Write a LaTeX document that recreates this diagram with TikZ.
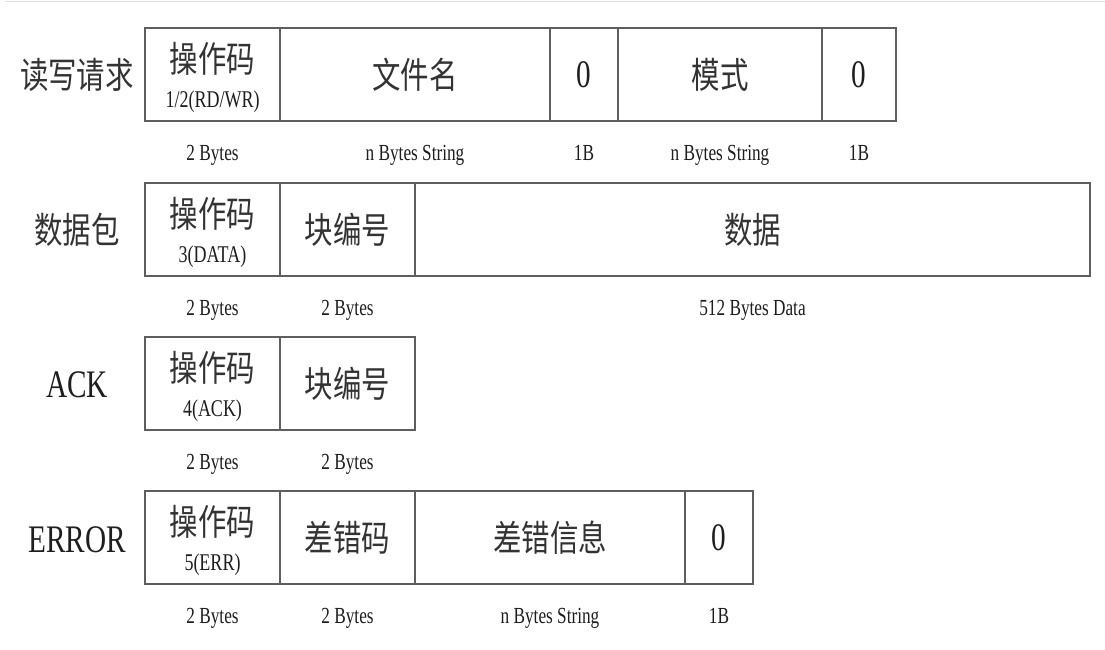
\documentclass[tikz,border=0pt]{standalone}
\usepackage{fontspec}
\setmainfont{Liberation Serif}[FakeStretch=0.75]
\newfontfamily\cjk{Noto Sans CJK SC}[FakeStretch=0.79]
\definecolor{boxgray}{HTML}{5E5E5E}
\definecolor{txt}{HTML}{1E1E1E}
\definecolor{cntxt}{HTML}{333333}
\tikzset{
  cell/.style={draw=boxgray, line width=1.2pt, minimum height=93pt, inner sep=0pt, outer sep=0pt, anchor=north west, text=txt},
  big/.style={font=\fontsize{39}{39}\selectfont, text=txt},
  cn/.style={font=\cjk\fontsize{36}{36}\selectfont, text=cntxt},
  op/.style={font=\fontsize{24}{24}\selectfont, text=txt, text height=17pt, text depth=5pt, inner sep=0pt},
  bl/.style={font=\fontsize{23}{23}\selectfont, text=txt, text height=16pt, text depth=5pt, inner sep=0pt},
}
\begin{document}
\begin{tikzpicture}[x=1pt, y=-1pt]
\useasboundingbox[fill=white] (0,0) rectangle (1105,649);
\draw[gray!25, line width=1pt] (5,1.5) -- (1105,1.5);

% ---------- row 1 : read/write request ----------
\node[cn] (l1) at (77,75) {读写请求};
\node[cell, minimum width=135pt] (r1a) at (145,28) {};
\node[cn] (r1a1) at ([yshift=-31pt]r1a.north) {操作码};
\node[op] (r1a2) at ([yshift=-73pt]r1a.north) {1/2(RD/WR)};
\node[cell, cn, minimum width=270pt] (r1b) at (280,28) {文件名};
\node[cell, big, minimum width=68pt] (r1c) at (550,28) {0};
\node[cell, cn, minimum width=204pt] (r1d) at (618,28) {模式};
\node[cell, big, minimum width=74pt] (r1e) at (822,28) {0};
\node[bl] (b1a) at ([yshift=-34pt]r1a.south) {2 Bytes};
\node[bl] (b1b) at ([yshift=-34pt]r1b.south) {n Bytes String};
\node[bl] (b1c) at ([yshift=-34pt]r1c.south) {1B};
\node[bl] (b1d) at ([yshift=-34pt]r1d.south) {n Bytes String};
\node[bl] (b1e) at ([yshift=-34pt]r1e.south) {1B};

% ---------- row 2 : data ----------
\node[cn] (l2) at (77,230) {数据包};
\node[cell, minimum width=135pt] (r2a) at (145,183) {};
\node[cn] (r2a1) at ([yshift=-31pt]r2a.north) {操作码};
\node[op] (r2a2) at ([yshift=-73pt]r2a.north) {3(DATA)};
\node[cell, cn, minimum width=135pt] (r2b) at (280,183) {块编号};
\node[cell, cn, minimum width=675pt] (r2c) at (415,183) {数据};
\node[bl] (b2a) at ([yshift=-34pt]r2a.south) {2 Bytes};
\node[bl] (b2b) at ([yshift=-34pt]r2b.south) {2 Bytes};
\node[bl] (b2c) at ([yshift=-34pt]r2c.south) {512 Bytes Data};

% ---------- row 3 : ACK ----------
\node[big] (l3) at (77,385) {ACK};
\node[cell, minimum width=135pt] (r3a) at (145,337) {};
\node[cn] (r3a1) at ([yshift=-31pt]r3a.north) {操作码};
\node[op] (r3a2) at ([yshift=-73pt]r3a.north) {4(ACK)};
\node[cell, cn, minimum width=135pt] (r3b) at (280,337) {块编号};
\node[bl] (b3a) at ([yshift=-34pt]r3a.south) {2 Bytes};
\node[bl] (b3b) at ([yshift=-34pt]r3b.south) {2 Bytes};

% ---------- row 4 : ERROR ----------
\node[big] (l4) at (77,540) {ERROR};
\node[cell, minimum width=135pt] (r4a) at (145,491) {};
\node[cn] (r4a1) at ([yshift=-31pt]r4a.north) {操作码};
\node[op] (r4a2) at ([yshift=-73pt]r4a.north) {5(ERR)};
\node[cell, cn, minimum width=135pt] (r4b) at (280,491) {差错码};
\node[cell, cn, minimum width=270pt] (r4c) at (415,491) {差错信息};
\node[cell, big, minimum width=68pt] (r4d) at (685,491) {0};
\node[bl] (b4a) at ([yshift=-34pt]r4a.south) {2 Bytes};
\node[bl] (b4b) at ([yshift=-34pt]r4b.south) {2 Bytes};
\node[bl] (b4c) at ([yshift=-34pt]r4c.south) {n Bytes String};
\node[bl] (b4d) at ([yshift=-34pt]r4d.south) {1B};
\end{tikzpicture}
\end{document}
